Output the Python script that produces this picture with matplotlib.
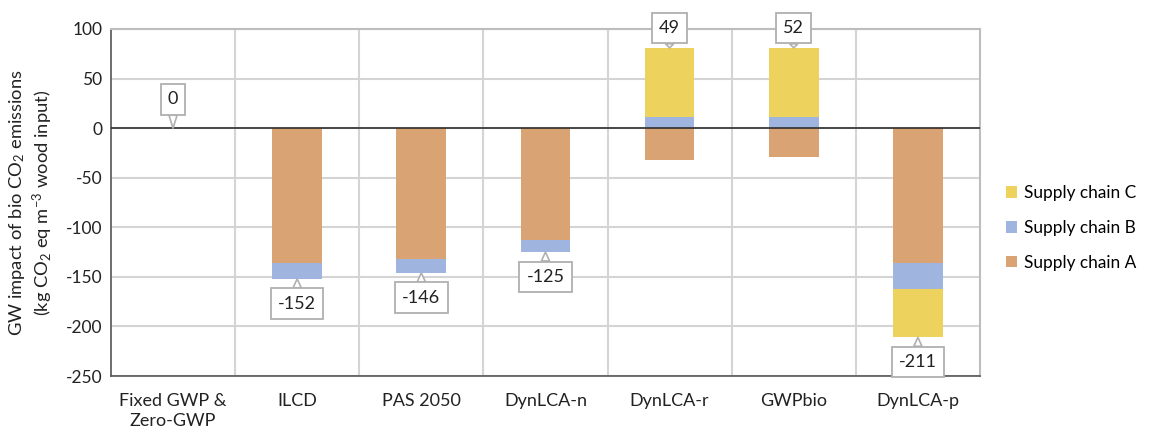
import numpy as np
import matplotlib.pyplot as plt

plt.rcParams['font.family'] = ['Lato', 'DejaVu Sans']
plt.rcParams['mathtext.default'] = 'regular'
plt.rcParams['axes.unicode_minus'] = False

methods = ['Fixed GWP &\nZero-GWP', 'ILCD', 'PAS 2050', 'DynLCA-n', 'DynLCA-r', 'GWPbio', 'DynLCA-p']
chain_a = [0, -136, -132, -113, -32, -29, -136]
chain_b = [0, -16, -14, -12, 11, 11, -26]
chain_c = [0, 0, 0, 0, 70, 70, -49]
totals = [0, -152, -146, -125, 49, 52, -211]

col_a = '#D9A373'
col_b = '#9FB5E0'
col_c = '#EDD35E'

fig = plt.figure(figsize=(11.51, 4.36), dpi=100)
ax = fig.add_axes([0.0964, 0.1376, 0.755, 0.796])

x = np.arange(len(methods))
w = 0.4

# stack positives upward and negatives downward from zero
pos = np.zeros(len(x))
neg = np.zeros(len(x))
handles = {}
for vals, col, name in [(chain_a, col_a, 'Supply chain A'),
                        (chain_b, col_b, 'Supply chain B'),
                        (chain_c, col_c, 'Supply chain C')]:
    v = np.array(vals, dtype=float)
    base = np.where(v >= 0, pos, neg)
    handles[name] = ax.bar(x, v, w, bottom=base, color=col, label=name, zorder=3)
    pos += np.where(v >= 0, v, 0)
    neg += np.where(v < 0, v, 0)

ax.set_xlim(-0.5, len(x) - 0.5)
ax.set_ylim(-250, 100)
ax.set_yticks(np.arange(-250, 101, 50))
ax.set_xticks(x)
ax.set_xticklabels(methods, fontsize=13, color='#222222', linespacing=1.35)
ax.tick_params(axis='y', labelsize=12.5, colors='#222222', length=0, pad=6)
ax.tick_params(axis='x', length=0, pad=12)

# vertical gridlines on category boundaries, horizontal on y ticks
for b in np.arange(0.5, len(x) - 0.5, 1):
    ax.axvline(b, color='#D4D4D4', lw=1.5, zorder=0)
ax.yaxis.grid(True, color='#D4D4D4', lw=1.5, zorder=0)
ax.set_axisbelow(True)
ax.axhline(0, color='#222222', lw=1.1, zorder=4)

for s in ['top', 'right']:
    ax.spines[s].set_color('#BDBDBD')
    ax.spines[s].set_linewidth(1.5)
for s in ['left', 'bottom']:
    ax.spines[s].set_color('#555555')
    ax.spines[s].set_linewidth(1.2)

ax.set_ylabel('GW impact of bio CO$_2$ emissions\n(kg CO$_2$ eq m$^{-3}$ wood input)',
              fontsize=13.2, color='#222222', labelpad=8)

# callout labels with total values
for i, t in enumerate(totals):
    if t > 0:
        end = pos[i]
        ty = end + 20
    elif t == 0:
        end = 0
        ty = 29
    else:
        end = neg[i]
        ty = end - 25
    ax.annotate(f'{t}', xy=(i, end), xytext=(i, ty), ha='center', va='center',
                fontsize=13, color='#222222', zorder=6, annotation_clip=False,
                bbox=dict(boxstyle='square,pad=0.4', fc='white', ec='#B0B0B0', lw=1.3),
                arrowprops=dict(arrowstyle='wedge,tail_width=0.45', fc='white',
                                ec='#B0B0B0', lw=1.2, shrinkA=0, shrinkB=0))

order = ['Supply chain C', 'Supply chain B', 'Supply chain A']
ax.legend([handles[n] for n in order], order, loc='center left',
          bbox_to_anchor=(1.012, 0.427), frameon=False, fontsize=12.4,
          handlelength=0.65, handleheight=0.65, handletextpad=0.4, labelspacing=1.1)

fig.savefig('out.png', dpi=100)
